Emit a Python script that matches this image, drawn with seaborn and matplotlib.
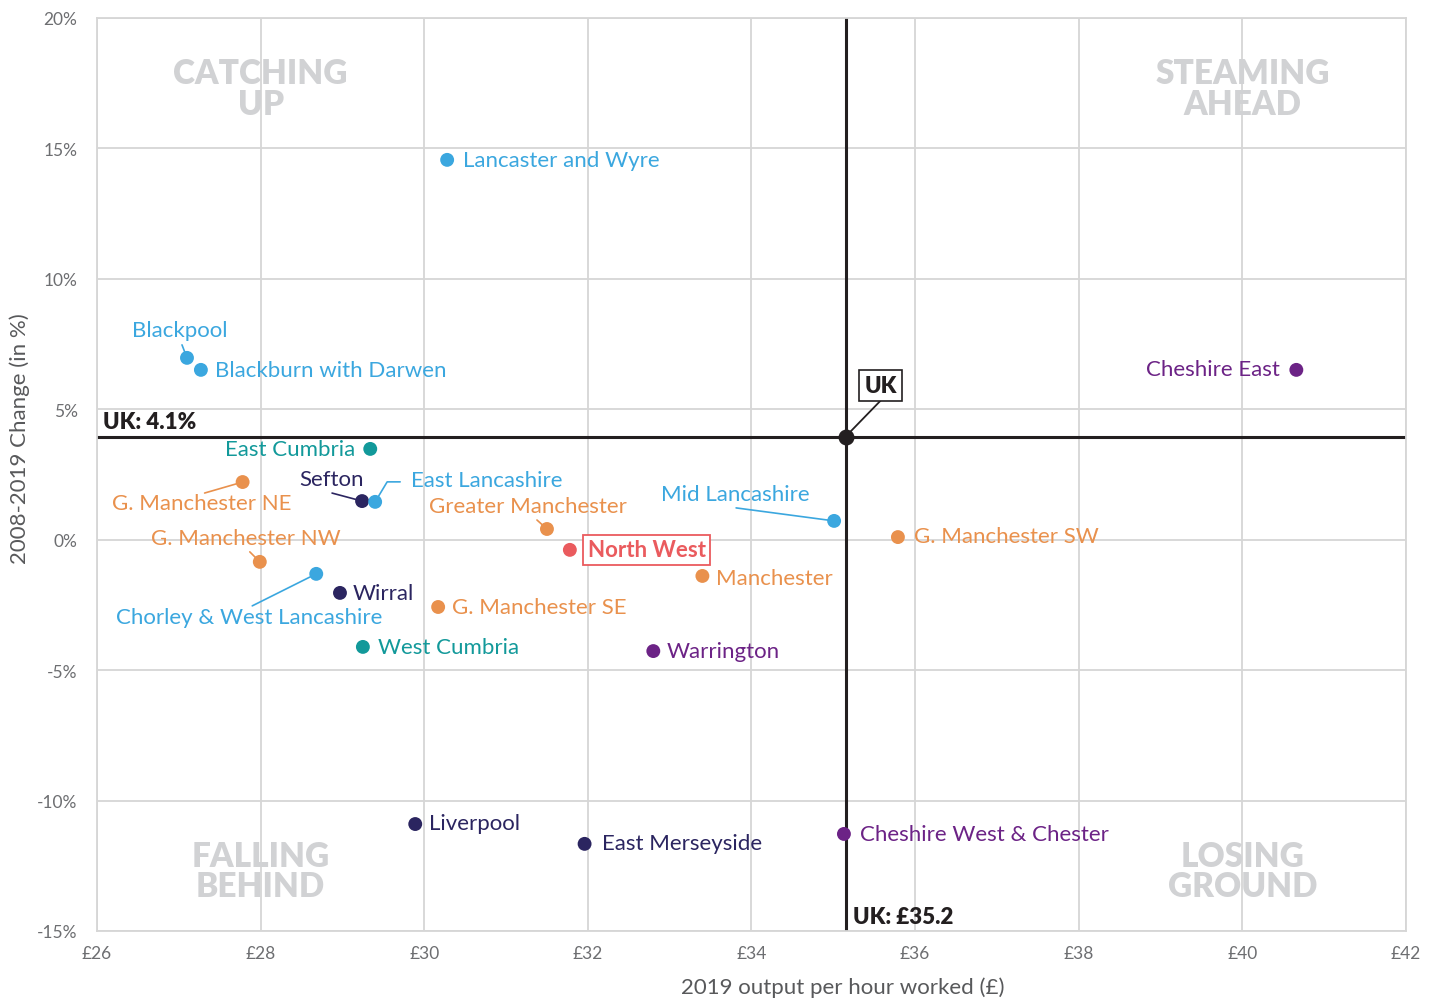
import pandas as pd
import matplotlib.pyplot as plt
import seaborn as sns

# --- data ---
areas = ["Lancaster and Wyre", "Blackpool", "Blackburn with Darwen", "Cheshire East",
         "East Cumbria", "G. Manchester NE", "Sefton", "East Lancashire",
         "Greater Manchester", "Mid Lancashire", "G. Manchester SW", "North West",
         "G. Manchester NW", "Chorley & West Lancashire", "Manchester", "Wirral",
         "G. Manchester SE", "West Cumbria", "Warrington", "Liverpool",
         "East Merseyside", "Cheshire West & Chester"]
output_2019 = [30.28, 27.10, 27.27, 40.66, 29.34, 27.78, 29.24, 29.40, 31.50, 35.01, 35.79,
               31.78, 27.99, 28.68, 33.40, 28.97, 30.17, 29.25, 32.80, 29.89, 31.96, 35.13]
change_pct = [14.56, 6.97, 6.51, 6.51, 3.48, 2.21, 1.48, 1.45, 0.41, 0.72, 0.10,
              -0.39, -0.85, -1.31, -1.39, -2.04, -2.58, -4.11, -4.27, -10.90, -11.66, -11.28]
region = ["Lancashire", "Lancashire", "Lancashire", "Cheshire", "Cumbria", "Greater Manchester",
          "Merseyside", "Lancashire", "Greater Manchester", "Lancashire", "Greater Manchester",
          "North West", "Greater Manchester", "Lancashire", "Greater Manchester", "Merseyside",
          "Greater Manchester", "Cumbria", "Cheshire", "Merseyside", "Merseyside", "Cheshire"]

uk_output = 35.15
uk_change = 3.95

x_ticks = [26, 28, 30, 32, 34, 36, 38, 40, 42]
x_tick_labels = ["£26", "£28", "£30", "£32", "£34", "£36", "£38", "£40", "£42"]
y_ticks = [-15, -10, -5, 0, 5, 10, 15, 20]
y_tick_labels = ["-15%", "-10%", "-5%", "0%", "5%", "10%", "15%", "20%"]

palette = {"Lancashire": "#3BA7DF", "Greater Manchester": "#E9914D", "Cumbria": "#12999A",
           "Merseyside": "#2B2560", "Cheshire": "#6C2386", "North West": "#EA5B5E"}

# label placement: text offset (px), alignment, optional leader end offset (px)
label_pos = {
    "Lancaster and Wyre": ((16, 0), "left", None),
    "Blackpool": ((-7, 28), "center", (-5, 13)),
    "Blackburn with Darwen": ((14, 0), "left", None),
    "Cheshire East": ((-16, 1), "right", None),
    "East Cumbria": ((-15, 0), "right", None),
    "G. Manchester NE": ((-41, -21), "center", (-38, -11)),
    "Sefton": ((-31, 22), "center", (-30, 8)),
    "East Lancashire": ((36, 22), "left", "elbow"),
    "Greater Manchester": ((-19, 23), "center", (-10, 9)),
    "Mid Lancashire": ((-99, 27), "center", (-98, 13)),
    "G. Manchester SW": ((16, 1), "left", None),
    "North West": ((18, 0), "left", None),
    "G. Manchester NW": ((-14, 24), "center", (-10, 10)),
    "Chorley & West Lancashire": ((-67, -43), "center", (-64, -32)),
    "Manchester": ((14, -2), "left", None),
    "Wirral": ((13, 0), "left", None),
    "G. Manchester SE": ((14, 0), "left", None),
    "West Cumbria": ((15, 0), "left", None),
    "Warrington": ((13, 0), "left", None),
    "Liverpool": ((14, 1), "left", None),
    "East Merseyside": ((17, 1), "left", None),
    "Cheshire West & Chester": ((16, 0), "left", None),
}

df = pd.DataFrame({"area": areas, "output": output_2019, "change": change_pct, "region": region})

sns.set_style("whitegrid")
plt.rcParams['font.family'] = ['Lato', 'DejaVu Sans']

grid_col = "#D6D6D6"
tick_col = "#6D6E71"
fig = plt.figure(figsize=(14.37, 10.03), dpi=100)
ax = fig.add_axes([0.0675, 0.0708, 0.9109, 0.9103])

# UK reference lines
ax.axhline(uk_change, color="#231F20", lw=2.2, zorder=2)
ax.axvline(uk_output, color="#231F20", lw=2.2, zorder=2)

sns.scatterplot(data=df, x="output", y="change", hue="region", palette=palette,
                s=100, edgecolor="none", legend=False, ax=ax, zorder=4)
ax.scatter([uk_output], [uk_change], s=110, color="#231F20", zorder=4)

for _, r in df.iterrows():
    (dx, dy), ha, leader = label_pos[r["area"]]
    col = palette[r["region"]]
    if r["area"] == "North West":
        ax.annotate(r["area"], (r["output"], r["change"]), xytext=(dx, dy),
                    textcoords="offset pixels", ha=ha, va="center", fontsize=16,
                    fontweight="bold", color=col, zorder=5,
                    bbox=dict(boxstyle="square,pad=0.2", fc="white", ec=col, lw=1.3))
    else:
        ax.annotate(r["area"], (r["output"], r["change"]), xytext=(dx, dy),
                    textcoords="offset pixels", ha=ha, va="center", fontsize=16,
                    color=col, zorder=5)
    if leader == "elbow":
        ax.annotate("", (r["output"], r["change"]), xytext=(25, 20), textcoords="offset pixels",
                    arrowprops=dict(arrowstyle="-", color=col, lw=1.2, shrinkA=0, shrinkB=0,
                                    connectionstyle="angle,angleA=180,angleB=59,rad=0"), zorder=3)
    elif leader is not None:
        ax.annotate("", (r["output"], r["change"]), xytext=leader, textcoords="offset pixels",
                    arrowprops=dict(arrowstyle="-", color=col, lw=1.2, shrinkA=0, shrinkB=0),
                    zorder=3)

# UK point label
ax.annotate("", (uk_output, uk_change), xytext=(35, 36), textcoords="offset pixels",
            arrowprops=dict(arrowstyle="-", color="#231F20", lw=1.3, shrinkA=0, shrinkB=0))
ax.annotate("UK", (uk_output, uk_change), xytext=(35, 51), textcoords="offset pixels",
            ha="center", va="center", fontsize=16, fontweight="heavy", color="#231F20",
            bbox=dict(boxstyle="square,pad=0.22", fc="white", ec="#231F20", lw=1.2))
ax.annotate("UK: 4.1%", (26, uk_change), xytext=(6, 15), textcoords="offset pixels",
            ha="left", va="center", fontsize=16, fontweight="heavy", color="#231F20")
ax.annotate("UK: £35.2", (uk_output, -15), xytext=(7, 14), textcoords="offset pixels",
            ha="left", va="center", fontsize=16, fontweight="heavy", color="#231F20")

# quadrant captions
quad_col = "#D1D2D4"
for qx, qy, txt in [(28, 17.3, "CATCHING\nUP"), (40, 17.3, "STEAMING\nAHEAD"),
                    (28, -12.7, "FALLING\nBEHIND"), (40, -12.7, "LOSING\nGROUND")]:
    ax.text(qx, qy, txt, ha="center", va="center", fontsize=24, fontweight="heavy",
            color=quad_col, linespacing=0.95, zorder=1)

ax.set_xlim(26, 42)
ax.set_ylim(-15, 20)
ax.set_xticks(x_ticks)
ax.set_xticklabels(x_tick_labels)
ax.set_yticks(y_ticks)
ax.set_yticklabels(y_tick_labels)
ax.tick_params(axis="both", length=0, labelsize=12.5, colors=tick_col)
ax.tick_params(axis="y", pad=14)
ax.tick_params(axis="x", pad=10)
ax.grid(True, color=grid_col, lw=1.3)
for s in ax.spines.values():
    s.set_color(grid_col)
    s.set_linewidth(1.3)

ax.set_xlabel("2019 output per hour worked (£)", fontsize=16, color="#58595B", va="center")
ax.set_ylabel("2008-2019 Change (in %)", fontsize=16, color="#58595B", va="center")
ax.xaxis.set_label_coords(0.57, -0.061)
ax.yaxis.set_label_coords(-0.0588, 0.54)

fig.savefig("out.png", dpi=100)
